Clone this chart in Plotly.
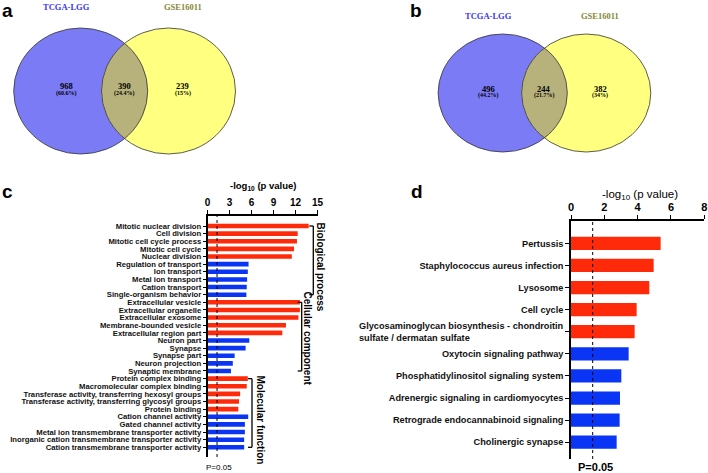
import plotly.graph_objects as go
import numpy as np

W, H = 708, 473

# Venn counts (a, b)
venn_sets = ['TCGA-LGG', 'GSE16011']
venn_a_counts = [968, 390, 239]
venn_a_pct = ['60.6%', '24.4%', '15%']
venn_b_counts = [496, 244, 382]
venn_b_pct = ['44.2%', '21.7%', '34%']

# GO enrichment (c)
go_terms = [
    'Mitotic nuclear division', 'Cell division', 'Mitotic cell cycle process',
    'Mitotic cell cycle', 'Nuclear division', 'Regulation of transport',
    'Ion transport', 'Metal ion transport', 'Cation transport',
    'Single-organism behavior', 'Extracellular vesicle', 'Extracellular organelle',
    'Extracellular exosome', 'Membrane-bounded vesicle', 'Extracellular region part',
    'Neuron part', 'Synapse', 'Synapse part', 'Neuron projection', 'Synaptic membrane',
    'Protein complex binding', 'Macromolecular complex binding',
    'Transferase activity, transferring hexosyl groups',
    'Transferase activity, transferring glycosyl groups', 'Protein binding',
    'Cation channel activity', 'Gated channel activity',
    'Metal ion transmembrane transporter activity',
    'Inorganic cation transmembrane transporter activity',
    'Cation transmembrane transporter activity',
]
go_values = [13.8, 12.3, 12.2, 11.8, 11.5, 5.6, 5.5, 5.4, 5.35, 5.3,
             12.6, 12.6, 12.4, 10.7, 10.2, 5.7, 5.2, 3.7, 3.45, 3.2,
             5.5, 5.35, 4.45, 4.3, 4.2, 5.55, 5.1, 5.1, 5.0, 5.0]
go_dir = ['up', 'up', 'up', 'up', 'up', 'down', 'down', 'down', 'down', 'down',
          'up', 'up', 'up', 'up', 'up', 'down', 'down', 'down', 'down', 'down',
          'up', 'up', 'up', 'up', 'up', 'down', 'down', 'down', 'down', 'down']
go_groups = ['Biological process', 'Cellular component', 'Molecular function']
go_group_first = ['Mitotic nuclear division', 'Extracellular vesicle', 'Protein complex binding']
go_group_last = ['Single-organism behavior', 'Synaptic membrane',
                 'Cation transmembrane transporter activity']

# KEGG pathways (d)
kegg_terms = [
    'Pertussis', 'Staphylococcus aureus infection', 'Lysosome', 'Cell cycle',
    'Glycosaminoglycan biosynthesis - chondroitin<br>sulfate / dermatan sulfate',
    'Oxytocin signaling pathway', 'Phosphatidylinositol signaling system',
    'Adrenergic signaling in cardiomyocytes', 'Retrograde endocannabinoid signaling',
    'Cholinergic synapse',
]
kegg_values = [5.38, 4.96, 4.7, 3.94, 3.82, 3.46, 3.02, 2.94, 2.92, 2.74]
kegg_dir = ['up', 'up', 'up', 'up', 'up', 'down', 'down', 'down', 'down', 'down']

p_cut = -np.log10(0.05)

RED, BLUE = '#FF2A0A', '#0A35F5'
SANS = 'Liberation Sans, Arial, sans-serif'
SERIF = 'Liberation Serif, Times New Roman, serif'


def px(x):
    return x / W


def py(y):
    return 1 - y / H


def ann(text, x, y, size, family, color='black', weight='normal',
        xanchor='center', yanchor='middle', angle=0, xref='paper', yref='paper', align='center'):
    return dict(text=text, x=px(x) if xref == 'paper' else x,
                y=py(y) if yref == 'paper' else y, xref=xref, yref=yref,
                showarrow=False, xanchor=xanchor, yanchor=yanchor, textangle=angle, align=align,
                font=dict(size=size, family=family, color=color, weight=weight))


fig = go.Figure()

fig.add_trace(go.Bar(
    x=go_values, y=go_terms, orientation='h', width=0.6,
    marker=dict(color=[RED if d == 'up' else BLUE for d in go_dir], line_width=0),
    xaxis='x', yaxis='y', showlegend=False,
))

kegg_ticks = [t if '<br>' not in t else ' ' for t in kegg_terms]
fig.add_trace(go.Bar(
    x=kegg_values, y=list(range(len(kegg_terms))), orientation='h', width=0.6,
    marker=dict(color=[RED if d == 'up' else BLUE for d in kegg_dir], line_width=0),
    xaxis='x2', yaxis='y2', showlegend=False,
))

shapes = []
annotations = []


# Venn diagrams
def venn(cx1, cx2, cy, rx, ry, counts, pct, label_y, num_y):
    xm = (cx1 + cx2) / 2
    h = ry * np.sqrt(1 - ((xm - cx1) / rx) ** 2)
    a1 = np.arcsin(h / ry)
    # lens: right side of left ellipse, then left side of right ellipse
    ta = np.linspace(-a1, a1, 60)
    tb = np.linspace(np.pi - a1, np.pi + a1, 60)
    pts = [(cx1 + rx * np.cos(v), cy - ry * np.sin(v)) for v in ta]
    pts += [(cx2 + rx * np.cos(v), cy - ry * np.sin(v)) for v in tb]
    path = 'M ' + ' L '.join(f'{px(x):.5f},{py(y):.5f}' for x, y in pts) + ' Z'
    for cx, col in [(cx1, '#7B7BF6'), (cx2, '#FFFF80')]:
        shapes.append(dict(type='circle', xref='paper', yref='paper',
                           x0=px(cx - rx), x1=px(cx + rx), y0=py(cy + ry), y1=py(cy - ry),
                           fillcolor=col, line_width=0, layer='below'))
    shapes.append(dict(type='path', path=path, xref='paper', yref='paper',
                       fillcolor='#B7B27B', line_width=0, layer='below'))
    for cx in (cx1, cx2):
        shapes.append(dict(type='circle', xref='paper', yref='paper',
                           x0=px(cx - rx), x1=px(cx + rx), y0=py(cy + ry), y1=py(cy - ry),
                           fillcolor='rgba(0,0,0,0)', line=dict(color='#333333', width=0.8)))
    xs = [cx1 - 14, xm, cx2 + 14]
    for x, c, p in zip(xs, counts, pct):
        annotations.append(ann(f'<b>{c}</b>', x, num_y, 8.5, SERIF))
        annotations.append(ann(f'<b>({p})</b>', x, num_y + 7, 6, SERIF))
    annotations.append(ann(f'<b>{venn_sets[0]}</b>', cx1 - 14, label_y, 8.5, SERIF, color='#3838EE'))
    annotations.append(ann(f'<b>{venn_sets[1]}</b>', cx2 + 14, label_y, 8.5, SERIF, color='#8A8535'))


venn(80.7, 168.5, 91, 67, 63, venn_a_counts, venn_a_pct, 7.5, 86.5)
venn(502.7, 586.2, 93, 64.6, 59, venn_b_counts, venn_b_pct, 15.5, 88.5)

# panel letters
for letter, x, y in [('a', 0, 10), ('b', 408, 10), ('c', 0, 191), ('d', 409, 191)]:
    annotations.append(ann(letter, x, y, 19, SANS, weight='bold', xanchor='left'))

# P cutoff lines
shapes.append(dict(type='line', xref='x', yref='y domain', x0=p_cut, x1=p_cut, y0=0, y1=1,
                   line=dict(color='black', width=1, dash='dot')))
shapes.append(dict(type='line', xref='x2', yref='y2 domain', x0=p_cut, x1=p_cut, y0=0, y1=1,
                   line=dict(color='black', width=1, dash='dot')))

# GO group brackets
br_x = [313.3, 301.7, 252]
lab_x = [320.5, 307.5, 260.5]
lab_y = [267, 338, 420]
for g, first, last, bx, lx, ly in zip(go_groups, go_group_first, go_group_last, br_x, lab_x, lab_y):
    shapes.append(dict(type='line', xref='paper', yref='y', x0=px(bx), x1=px(bx), y0=first, y1=last,
                       line=dict(color='black', width=1.3)))
    for end in (first, last):
        shapes.append(dict(type='line', xref='paper', yref='y', x0=px(bx - 4), x1=px(bx), y0=end, y1=end,
                           line=dict(color='black', width=1.3)))
    annotations.append(ann(g, lx, ly, 10, SANS, weight='bold', angle=90))

# axis titles and P labels
annotations.append(ann('-log<sub>10</sub> (p value)', 263, 186, 9.5, SANS, weight='bold'))
annotations.append(ann('-log<sub>10</sub> (p value)', 640, 195, 11.5, SANS))
annotations.append(ann('P=0.05', 219, 467, 8, SANS))
annotations.append(ann('P=0.05', 595, 467, 11, SANS, weight='bold'))

# two-line KEGG label, left aligned
annotations.append(ann(kegg_terms[4], 566, 4, 9.2, SANS, weight='bold', xanchor='right',
                       yref='y2', align='left', color='#111111'))

fig.update_layout(
    width=W, height=H,
    margin=dict(l=0, r=0, t=0, b=0),
    paper_bgcolor='white', plot_bgcolor='white',
    shapes=shapes, annotations=annotations,
    xaxis=dict(domain=[px(207.5), px(317.5)], anchor='y', side='top', range=[0, 15],
               tickvals=[0, 3, 6, 9, 12, 15], ticks='outside', ticklen=4, tickwidth=1.2,
               tickcolor='black', showline=True, linewidth=1.5, linecolor='black',
               showgrid=False, zeroline=False, automargin=False, ticklabeloverflow='allow',
               tickfont=dict(family=SANS, size=10, color='black', weight='bold')),
    yaxis=dict(domain=[py(457), py(216)], anchor='x', range=[30.27, -1.31],
               tickmode='array', tickvals=go_terms, ticktext=go_terms,
               ticks='outside', ticklen=3, tickwidth=1, tickcolor='black',
               showline=True, linewidth=1.5, linecolor='black', showgrid=False,
               automargin=False, ticklabeloverflow='allow',
               tickfont=dict(family=SANS, size=7.7, color='#111111', weight='bold')),
    xaxis2=dict(domain=[px(571), px(704.3)], anchor='y2', side='top', range=[0, 8],
                tickvals=[0, 2, 4, 6, 8], ticks='outside', ticklen=4, tickwidth=1.2,
                tickcolor='black', showline=True, linewidth=1.5, linecolor='black',
                showgrid=False, zeroline=False, automargin=False, ticklabeloverflow='allow',
                tickfont=dict(family=SANS, size=11, color='black', weight='bold')),
    yaxis2=dict(domain=[py(459), py(221)], anchor='x2', range=[9.76, -1.01],
                tickmode='array', tickvals=list(range(len(kegg_terms))), ticktext=kegg_ticks,
                ticks='outside', ticklen=4, tickwidth=1, tickcolor='black',
                showline=True, linewidth=1.5, linecolor='black', showgrid=False, zeroline=False,
                automargin=False, ticklabeloverflow='allow',
                tickfont=dict(family=SANS, size=9.2, color='#111111', weight='bold')),
)

# the page body has a default 8px margin; drop it so the figure sits at the window corner
fig.write_html('out.html', config={'displayModeBar': False},
               post_script="document.body.style.margin='0';")
